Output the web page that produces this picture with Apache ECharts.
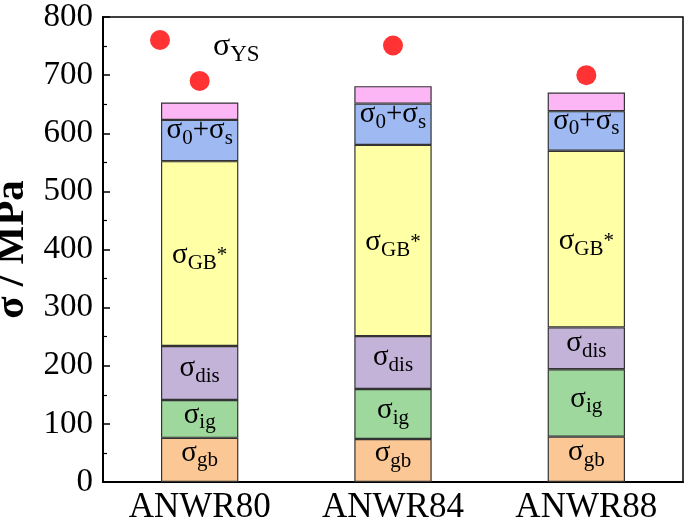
<!DOCTYPE html>
<html>
<head>
<meta charset="utf-8">
<script src="https://cdn.jsdelivr.net/npm/echarts@6/dist/echarts.min.js"></script>
<style>html,body{margin:0;padding:0;background:#fff}#c{width:685px;height:530px}</style>
</head>
<body>
<div id="c"></div>
<script>
var categories = ['ANWR80', 'ANWR84', 'ANWR88'];
var sigmaGb = [76, 74, 78];
var sigmaIg = [65, 86, 116];
var sigmaDis = [93, 91, 72];
var sigmaGBstar = [318, 329, 304];
var sigma0s = [71, 71, 68];
var sigmaOther = [30, 30, 32];
var sigmaYS = [690, 751, 700];
var yTicks = [0, 100, 200, 300, 400, 500, 600, 700, 800];

var FONT = '"Liberation Serif", "Times New Roman", serif';
var richStyle = {
  m: {fontSize: 29, fontFamily: FONT, color: '#000', verticalAlign: 'top', lineHeight: 29, padding: [0, 0, 0, 0]},
  s: {fontSize: 21, fontFamily: FONT, color: '#000', verticalAlign: 'top', lineHeight: 21, padding: [12, 0, 0, 0]}
};
var richStar = {
  m: {fontSize: 29, fontFamily: FONT, color: '#000', verticalAlign: 'top', lineHeight: 29, padding: [8, 0, 0, 0]},
  s: {fontSize: 21, fontFamily: FONT, color: '#000', verticalAlign: 'top', lineHeight: 21, padding: [20, 0, 0, 0]},
  p: {fontSize: 21, fontFamily: FONT, color: '#000', verticalAlign: 'top', lineHeight: 21, padding: [12, 0, 0, 0]}
};
function lbl(fn, offY, rich) {
  return {show: true, position: 'inside', formatter: fn, rich: rich || richStyle, offset: [0, offY]};
}
var border = {borderColor: '#333', borderWidth: 1.2};
function barSeries(name, data, color, label) {
  return {
    name: name, type: 'bar', stack: 'total', data: data, barWidth: '40%',
    itemStyle: Object.assign({color: color}, border),
    label: label || {show: false},
    emphasis: {disabled: true}
  };
}

var chart = echarts.init(document.getElementById('c'));
chart.setOption({
  animation: false,
  grid: {left: 103, right: 2, top: 17, bottom: 48, show: true, borderColor: '#000', borderWidth: 1.5,
         backgroundColor: 'transparent', containLabel: false, outerBoundsMode: 'none'},
  legend: {
    left: 145, top: 25, itemWidth: 20, itemHeight: 20, icon: 'circle',
    data: [{name: 'YS'}],
    formatter: function () { return '{m|σ}{s|YS}'; },
    textStyle: {padding: [14, 0, 0, 38], rich: {
      m: {fontSize: 32, fontFamily: FONT, color: '#000', verticalAlign: 'top', lineHeight: 32},
      s: {fontSize: 23, fontFamily: FONT, color: '#000', verticalAlign: 'top', lineHeight: 23, padding: [12, 0, 0, 0]}
    }}
  },
  xAxis: {
    type: 'category', data: categories,
    axisLine: {lineStyle: {color: '#000', width: 2}},
    axisTick: {show: true, inside: true, alignWithLabel: true, length: 6, lineStyle: {color: '#000', width: 1.5}},
    axisLabel: {fontSize: 35, fontFamily: FONT, color: '#000', margin: 8}
  },
  yAxis: {
    type: 'value', min: yTicks[0], max: yTicks[yTicks.length - 1], interval: 100,
    name: 'σ / MPa', nameLocation: 'middle', nameGap: 66,
    nameTextStyle: {fontSize: 41, fontFamily: FONT, fontWeight: 'bold', color: '#000'},
    axisLine: {show: true, lineStyle: {color: '#000', width: 2}},
    axisTick: {show: true, inside: true, length: 7, lineStyle: {color: '#000', width: 1.5}},
    minorTick: {show: true, splitNumber: 2, length: 4, lineStyle: {color: '#000', width: 1.2}},
    splitLine: {show: false},
    axisLabel: {fontSize: 33, fontFamily: FONT, color: '#000', margin: 10}
  },
  series: [
    barSeries('gb', sigmaGb, '#FBC794', lbl(function () { return '{m|σ}{s|gb}'; }, -7)),
    barSeries('ig', sigmaIg, '#9ED89C', lbl(function () { return '{m|σ}{s|ig}'; }, -4)),
    barSeries('dis', sigmaDis, '#C3B3D8', lbl(function () { return '{m|σ}{s|dis}'; }, -5)),
    barSeries('GB', sigmaGBstar, '#FFFFA5', lbl(function () { return '{m|σ}{s|GB}{p|*}'; }, -6, richStar)),
    barSeries('0s', sigma0s, '#9FBAF2', lbl(function () { return '{m|σ}{s|0}{m|+σ}{s|s}'; }, -10)),
    barSeries('other', sigmaOther, '#FCB6F6'),
    {
      name: 'YS', type: 'scatter', data: sigmaYS, symbolSize: 20, z: 5,
      itemStyle: {color: '#FF0000'}, emphasis: {disabled: true}
    }
  ]
});
</script>
</body>
</html>
